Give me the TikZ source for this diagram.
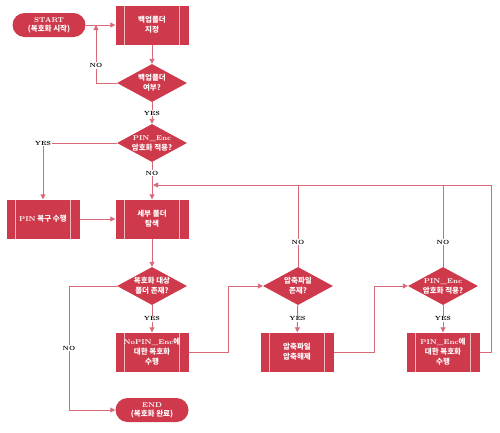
\documentclass[tikz,border=0pt]{standalone}
\usepackage{fontspec}
\newfontfamily\kr{Noto Sans CJK KR}
\usetikzlibrary{shapes.geometric,arrows.meta}
\definecolor{flowred}{HTML}{CE3A4C}
\definecolor{linered}{HTML}{D86A78}

\begin{document}
\begin{tikzpicture}[x=1pt,y=-1pt,font=\scriptsize,
    flow/.style={draw=linered, line width=0.9pt, -{Triangle[length=5pt,width=5pt]}},
    line/.style={draw=linered, line width=0.9pt},
    term/.style={fill=flowred, text=white, rounded corners=12pt, minimum width=73pt,
        minimum height=24pt, align=center, inner sep=1pt, font=\fontsize{7.5}{9}\kr\bfseries},
    proc/.style={fill=flowred, text=white, minimum width=73pt, minimum height=39pt,
        align=center, inner sep=1pt,
        path picture={\draw[white!65!flowred, line width=0.7pt]
            ([xshift=9pt]path picture bounding box.north west) -- ([xshift=9pt]path picture bounding box.south west)
            ([xshift=-9pt]path picture bounding box.north east) -- ([xshift=-9pt]path picture bounding box.south east);}},
    kor/.style={font=\fontsize{7.5}{10}\kr\bfseries},
    dec/.style={diamond, fill=flowred, minimum width=70pt, minimum height=38pt, inner sep=0pt},
    dectext/.style={text=white, align=center, font=\fontsize{7.5}{10}\kr\bfseries},
    yn/.style={fill=white, inner sep=1pt, font=\fontsize{6}{7}\selectfont\bfseries}]
    \useasboundingbox (0,0) rectangle (500,432);

    % nodes
    \node[term] (start) at (49,25) {{\rmfamily\scriptsize\bfseries START}\\(복호화 시작)};
    \node[proc,kor] (bkdir) at (152,25) {백업폴더\\지정};
    \node[dec, label={[dectext]center:{백업폴더\\여부?}}] (bkq) at (152,83) {};
    \node[dec, label={[dectext]center:{{\rmfamily\scriptsize\bfseries PIN\_Enc}\\암호화 적용?}}] (encq) at (152,143) {};
    \node[proc,kor] (pinrec) at (43,219) {{\rmfamily\scriptsize\bfseries PIN} 복구 수행};
    \node[proc,kor] (subdir) at (152,219) {세부 폴더\\탐색};
    \node[dec, label={[dectext]center:{복호화 대상\\폴더 존재?}}] (tgtq) at (152,286) {};
    \node[proc, kor] (nopin) at (152,352) {{\rmfamily\scriptsize\bfseries NoPIN\_Enc}에\\대한 복호화\\수행};
    \node[term] (endn) at (152,410) {{\rmfamily\scriptsize\bfseries END}\\(복호화 완료)};
    \node[dec, label={[dectext]center:{압축파일\\존재?}}] (zipq) at (298,286) {};
    \node[proc,kor] (unzip) at (297,352) {압축파일\\압축해제};
    \node[dec, label={[dectext]center:{{\rmfamily\scriptsize\bfseries PIN\_Enc}\\암호화 적용?}}] (pinq) at (443,286) {};
    \node[proc, kor] (pindec) at (443,352) {{\rmfamily\scriptsize\bfseries PIN\_Enc}에\\대한 복호화\\수행};

    \coordinate (back) at (96,25);
    \coordinate (join) at (153,185);
    \coordinate (nocorner) at (69,410);

    % connectors
    \draw[flow] (start) -- (bkdir);
    \draw[flow] (bkdir) -- (bkq);
    \draw[flow] (bkq.west) -| node[yn, pos=0.65] {NO} (back);
    \draw[flow] (bkq) -- node[yn] {YES} (encq);
    \draw[flow] (encq.west) -| node[yn, pos=0.5] {YES} (pinrec.north);
    \draw[flow] (encq) -- node[yn, pos=0.3] {NO} (subdir);
    \draw[flow] (pinrec) -- (subdir);
    \draw[flow] (subdir) -- (tgtq);
    \draw[flow] (tgtq) -- node[yn] {YES} (nopin);
    \draw[flow] (tgtq.west) -| node[yn, pos=0.75] {NO} (nocorner) -- (endn);
    \draw[flow] (nopin.east) -- ++(40,0) |- (zipq.west);
    \draw[flow] (zipq) -- node[yn] {YES} (unzip);
    \draw[line] (zipq.north) -- node[yn, pos=0.3] {NO} (zipq.north |- join);
    \draw[flow] (unzip.east) -- ++(41,0) |- (pinq.west);
    \draw[flow] (pinq) -- node[yn] {YES} (pindec);
    \draw[line] (pinq.north) -- node[yn, pos=0.3] {NO} (pinq.north |- join);
    \draw[flow] (pindec.east) -- ++(12,0) |- (join);
\end{tikzpicture}
\end{document}
